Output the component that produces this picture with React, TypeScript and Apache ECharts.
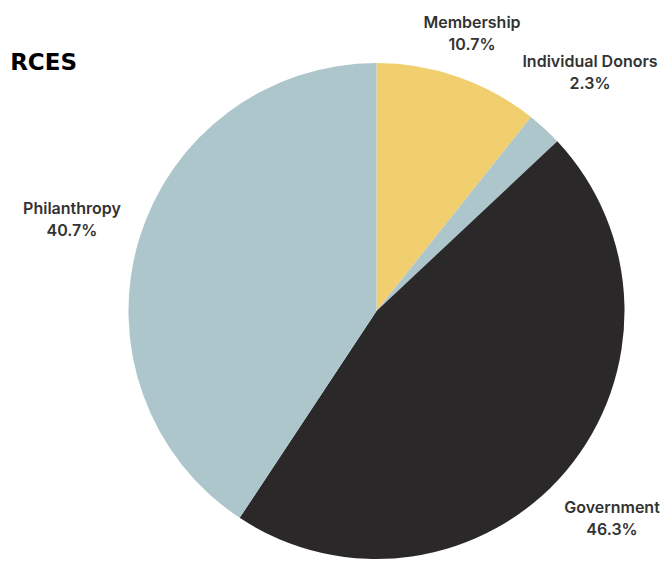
import React, { useEffect, useRef } from "react";
import * as echarts from "echarts";

const categories = ["Membership", "Individual Donors", "Government", "Philanthropy"];
const shares = [10.7, 2.3, 46.3, 40.7];
const colors = ["#F1CF6F", "#ADC6CB", "#2A2829", "#ADC6CB"];
const labelCenters: [number, number][] = [
  [472, 33],
  [590, 72],
  [612, 518],
  [72, 219],
];
const titleText = "RCES";

export default function App() {
  const ref = useRef<HTMLDivElement>(null);
  useEffect(() => {
    if (!ref.current) return;
    const chart = echarts.init(ref.current, null, { renderer: "svg" });
    chart.setOption({
      animation: false,
      backgroundColor: "#ffffff",
      graphic: [
        {
          type: "text",
          right: 670 - 77,
          top: 50,
          style: {
            text: titleText,
            fill: "#000000",
            font: "bold 23px 'DejaVu Sans', Inter, sans-serif",
            textAlign: "right",
          },
        },
      ],
      series: [
        {
          type: "pie",
          center: [376.5, 311],
          radius: 248,
          startAngle: 90,
          clockwise: true,
          avoidLabelOverlap: false,
          label: {
            show: true,
            position: "outside",
            formatter: "{b}\n{c}%",
            color: "#333333",
            fontFamily: "Inter, 'Open Sans', sans-serif",
            fontWeight: 600,
            fontSize: 16,
            lineHeight: 22,
            align: "center",
          },
          labelLine: { show: false },
          labelLayout: (params: any) => {
            const p = labelCenters[params.dataIndex];
            return { x: p[0], y: p[1], align: "center", verticalAlign: "middle" };
          },
          emphasis: { disabled: true },
          itemStyle: { borderWidth: 0 },
          data: categories.map((name, i) => ({
            name,
            value: shares[i],
            itemStyle: { color: colors[i] },
          })),
        },
      ],
    });
    return () => chart.dispose();
  }, []);
  return (
    <div
      ref={ref}
      style={{ position: "fixed", left: 0, top: 0, width: 670, height: 565 }}
    />
  );
}
